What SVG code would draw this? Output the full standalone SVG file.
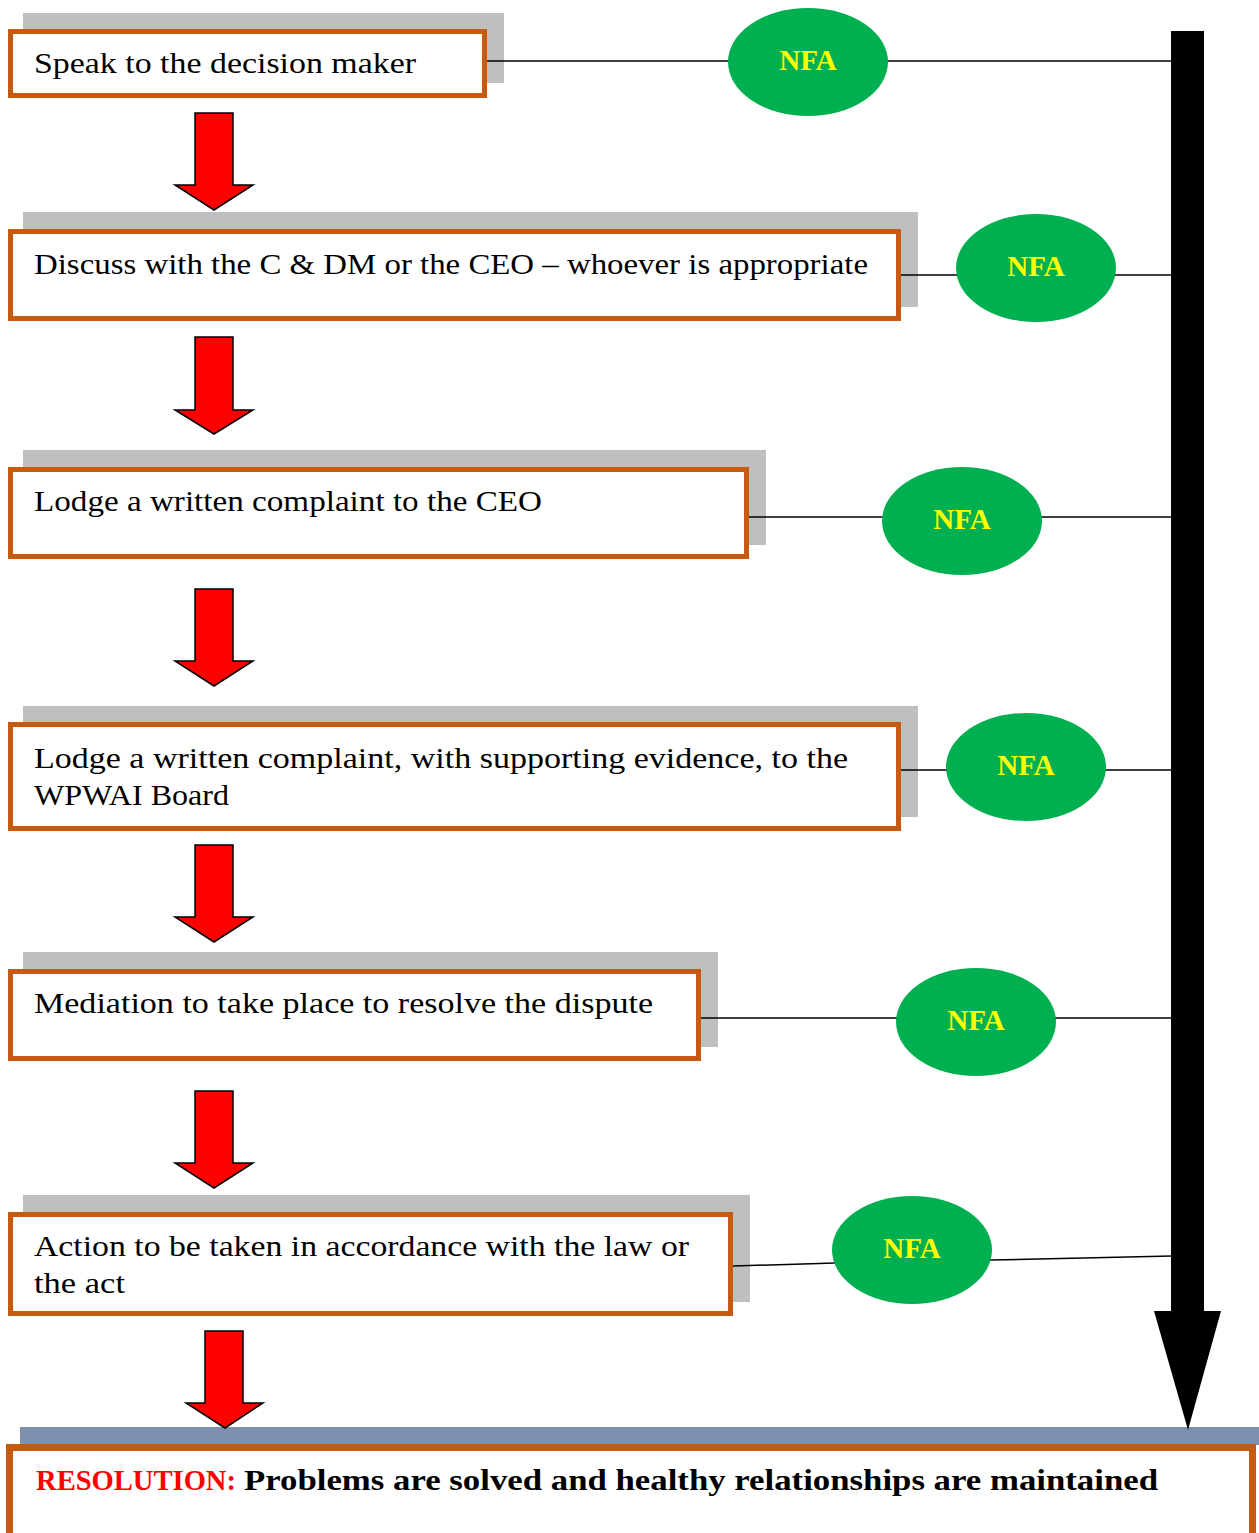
<svg xmlns="http://www.w3.org/2000/svg" width="1259" height="1533" viewBox="0 0 1259 1533">
<style>
.sh{fill:#BFBFBF}
.bx{fill:#fff;stroke:#C55A11;stroke-width:5}
.t{font-family:"Liberation Serif","DejaVu Serif",serif;font-size:29px;fill:#000}
.nfa{fill:#00B050}
.nt{font-family:"Liberation Serif","DejaVu Serif",serif;font-size:29px;font-weight:bold;fill:#FFFF00;text-anchor:middle}
.ln{stroke:#000;stroke-width:1.5;fill:none}
.ra{fill:#FF0000;stroke:#000;stroke-width:1.5;stroke-linejoin:miter}
</style>
<rect width="1259" height="1533" fill="#fff"/>
<g id="node1">
<rect class="sh" x="23" y="13" width="481" height="70"/>
<rect class="bx" x="10.5" y="31.5" width="474" height="64"/>
<text class="t" x="34" y="73" textLength="382" lengthAdjust="spacingAndGlyphs">Speak to the decision maker</text>
</g>
<g id="node2">
<rect class="sh" x="23" y="212" width="895" height="95"/>
<rect class="bx" x="10.5" y="231.5" width="888" height="87"/>
<text class="t" x="34" y="274" textLength="834" lengthAdjust="spacingAndGlyphs">Discuss with the C &amp; DM or the CEO – whoever is appropriate</text>
</g>
<g id="node3">
<rect class="sh" x="23" y="450" width="743" height="95"/>
<rect class="bx" x="10.5" y="469.5" width="736" height="87"/>
<text class="t" x="34" y="511" textLength="508" lengthAdjust="spacingAndGlyphs">Lodge a written complaint to the CEO</text>
</g>
<g id="node4">
<rect class="sh" x="23" y="706" width="895" height="111"/>
<rect class="bx" x="10.5" y="724.5" width="888" height="104"/>
<text class="t" x="34" y="768" textLength="814" lengthAdjust="spacingAndGlyphs">Lodge a written complaint, with supporting evidence, to the</text>
<text class="t" x="34" y="805" textLength="195" lengthAdjust="spacingAndGlyphs">WPWAI Board</text>
</g>
<g id="node5">
<rect class="sh" x="23" y="952" width="695" height="95"/>
<rect class="bx" x="10.5" y="971.5" width="688" height="87"/>
<text class="t" x="34" y="1013" textLength="619" lengthAdjust="spacingAndGlyphs">Mediation to take place to resolve the dispute</text>
</g>
<g id="node6">
<rect class="sh" x="23" y="1195" width="727" height="107"/>
<rect class="bx" x="10.5" y="1214.5" width="720" height="99"/>
<text class="t" x="34" y="1256" textLength="655" lengthAdjust="spacingAndGlyphs">Action to be taken in accordance with the law or</text>
<text class="t" x="34" y="1293" textLength="91" lengthAdjust="spacingAndGlyphs">the act</text>
</g>
<g id="resolution">
<rect x="20" y="1427" width="1239" height="18" fill="#7F8FAE"/>
<rect x="9.5" y="1447.5" width="1243" height="95" fill="#fff" stroke="#C55A11" stroke-width="7"/>
<text x="36" y="1490" font-family="'Liberation Serif','DejaVu Serif',serif" font-size="29" font-weight="bold"><tspan fill="#FF0000" textLength="200" lengthAdjust="spacingAndGlyphs">RESOLUTION:</tspan><tspan x="244" fill="#000" textLength="914" lengthAdjust="spacingAndGlyphs">Problems are solved and healthy relationships are maintained</tspan></text>
</g>
<g id="connectors">
<line class="ln" x1="487" y1="61" x2="1172" y2="61"/>
<line class="ln" x1="901" y1="275" x2="1172" y2="275"/>
<line class="ln" x1="749" y1="517" x2="1172" y2="517"/>
<line class="ln" x1="901" y1="770" x2="1172" y2="770"/>
<line class="ln" x1="701" y1="1018" x2="1172" y2="1018"/>
<polyline class="ln" points="733,1266 835,1263"/>
<polyline class="ln" points="990,1260 1172,1256"/>
<polygon class="ra" points="195,113 233,113 233,185 253,185 214,210 175,185 195,185"/>
<polygon class="ra" points="195,337 233,337 233,410 253,410 214,434 175,410 195,410"/>
<polygon class="ra" points="195,589 233,589 233,661 253,661 214,686 175,661 195,661"/>
<polygon class="ra" points="195,845 233,845 233,917 253,917 214,942 175,917 195,917"/>
<polygon class="ra" points="195,1091 233,1091 233,1163 253,1163 214,1188 175,1163 195,1163"/>
<polygon class="ra" points="205,1331 243,1331 243,1403 263,1403 225,1428 186,1403 205,1403"/>
<polygon fill="#000" points="1171,31 1204,31 1204,1311 1221,1311 1188,1430 1154,1311 1171,1311"/>
</g>
<g id="nfa1"><ellipse class="nfa" cx="808" cy="62" rx="80" ry="54"/><text class="nt" x="808" y="70">NFA</text></g>
<g id="nfa2"><ellipse class="nfa" cx="1036" cy="268" rx="80" ry="54"/><text class="nt" x="1036" y="276">NFA</text></g>
<g id="nfa3"><ellipse class="nfa" cx="962" cy="521" rx="80" ry="54"/><text class="nt" x="962" y="529">NFA</text></g>
<g id="nfa4"><ellipse class="nfa" cx="1026" cy="767" rx="80" ry="54"/><text class="nt" x="1026" y="775">NFA</text></g>
<g id="nfa5"><ellipse class="nfa" cx="976" cy="1022" rx="80" ry="54"/><text class="nt" x="976" y="1030">NFA</text></g>
<g id="nfa6"><ellipse class="nfa" cx="912" cy="1250" rx="80" ry="54"/><text class="nt" x="912" y="1258">NFA</text></g>
</svg>
